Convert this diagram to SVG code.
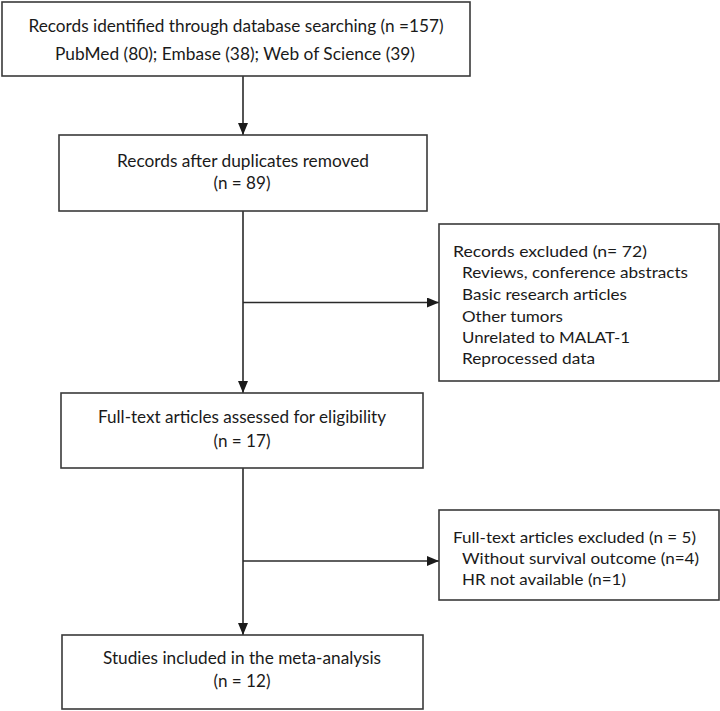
<svg xmlns="http://www.w3.org/2000/svg" width="720" height="711" viewBox="0 0 720 711">
<style>
.box{fill:#fff;stroke:#3a3a3a;stroke-width:1.6}
.t{font-family:Lato,"Open Sans","Liberation Sans",sans-serif;font-size:17px;fill:#1a1a1a}
.s{font-family:Lato,"Open Sans","Liberation Sans",sans-serif;font-size:16px;fill:#1a1a1a}
.c{text-anchor:middle}
.ln{stroke:#2a2a2a;stroke-width:1.6;fill:none}
</style>
<defs>
<marker id="ah" viewBox="0 0 12 10" refX="12" refY="5" markerWidth="12" markerHeight="10" markerUnits="userSpaceOnUse" orient="auto">
<path d="M0,0 L12,5 L0,10 Z" fill="#1a1a1a"/>
</marker>
</defs>
<rect width="720" height="711" fill="#fff"/>
<g id="connectors">
<line class="ln" x1="243" y1="76" x2="243" y2="135" marker-end="url(#ah)"/>
<line class="ln" x1="243" y1="211" x2="243" y2="393" marker-end="url(#ah)"/>
<line class="ln" x1="243" y1="302.5" x2="439" y2="302.5" marker-end="url(#ah)"/>
<line class="ln" x1="243" y1="468" x2="243" y2="635" marker-end="url(#ah)"/>
<line class="ln" x1="243" y1="561" x2="439" y2="561" marker-end="url(#ah)"/>
</g>
<g id="identified">
<rect class="box" x="2" y="2" width="468" height="74"/>
<text class="t c" x="236" y="32" textLength="415" lengthAdjust="spacingAndGlyphs">Records identified through database searching (n =157)</text>
<text class="t c" x="235" y="60" textLength="360" lengthAdjust="spacingAndGlyphs">PubMed (80); Embase (38); Web of Science (39)</text>
</g>
<g id="deduplicated">
<rect class="box" x="59" y="135" width="368" height="76"/>
<text class="t c" x="243" y="167" textLength="252" lengthAdjust="spacingAndGlyphs">Records after duplicates removed</text>
<text class="t c" x="242" y="189" textLength="57" lengthAdjust="spacingAndGlyphs">(n = 89)</text>
</g>
<g id="excluded1">
<rect class="box" x="439" y="224" width="280" height="157"/>
<text class="s" x="453" y="257" textLength="194" lengthAdjust="spacingAndGlyphs">Records excluded (n= 72)</text>
<text class="s" x="462" y="278" textLength="226" lengthAdjust="spacingAndGlyphs">Reviews, conference abstracts</text>
<text class="s" x="462" y="300" textLength="165" lengthAdjust="spacingAndGlyphs">Basic research articles</text>
<text class="s" x="462" y="322" textLength="101" lengthAdjust="spacingAndGlyphs">Other tumors</text>
<text class="s" x="462" y="343" textLength="168" lengthAdjust="spacingAndGlyphs">Unrelated to MALAT-1</text>
<text class="s" x="462" y="364" textLength="133" lengthAdjust="spacingAndGlyphs">Reprocessed data</text>
</g>
<g id="fulltext">
<rect class="box" x="61" y="393" width="362" height="75"/>
<text class="t c" x="242" y="423" textLength="288" lengthAdjust="spacingAndGlyphs">Full-text articles assessed for eligibility</text>
<text class="t c" x="242" y="447" textLength="57" lengthAdjust="spacingAndGlyphs">(n = 17)</text>
</g>
<g id="excluded2">
<rect class="box" x="439" y="510" width="280" height="90"/>
<text class="s" x="453" y="543" textLength="243" lengthAdjust="spacingAndGlyphs">Full-text articles excluded (n = 5)</text>
<text class="s" x="462" y="564" textLength="237" lengthAdjust="spacingAndGlyphs">Without survival outcome (n=4)</text>
<text class="s" x="462" y="585" textLength="164" lengthAdjust="spacingAndGlyphs">HR not available (n=1)</text>
</g>
<g id="included">
<rect class="box" x="62" y="635" width="361" height="74"/>
<text class="t c" x="242" y="664" textLength="278" lengthAdjust="spacingAndGlyphs">Studies included in the meta-analysis</text>
<text class="t c" x="242" y="687" textLength="57" lengthAdjust="spacingAndGlyphs">(n = 12)</text>
</g>
</svg>
